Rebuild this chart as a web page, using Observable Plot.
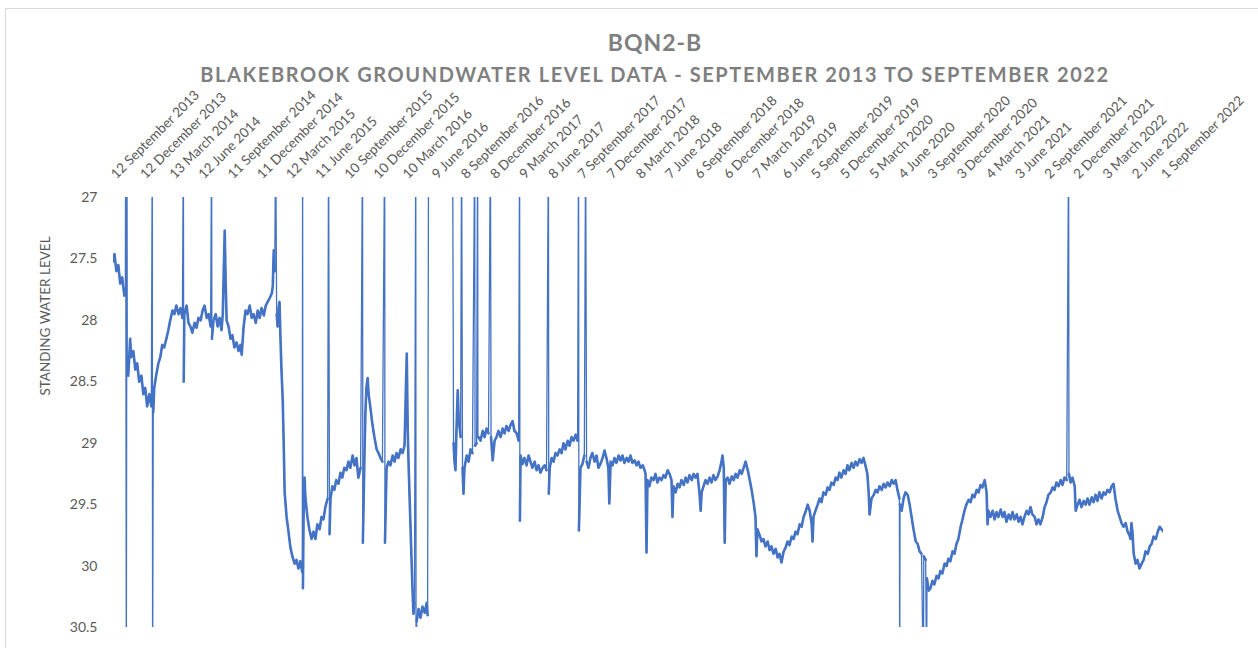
<!DOCTYPE html>
<html>
<head>
<meta charset="utf-8">
<script src="https://cdn.jsdelivr.net/npm/d3@7"></script>
<script src="https://cdn.jsdelivr.net/npm/@observablehq/plot@0.6"></script>
<style>
  body { margin: 0; background: #fff; font-family: Lato, "Open Sans", sans-serif; }
  #wrap { position: relative; width: 1258px; height: 648px; overflow: hidden; background: #fff; }
  #border { position: absolute; left: 5px; top: 8px; width: 1300px; height: 700px; border: 1px solid #d9d9d9; box-sizing: border-box; }
  .ttl { position: absolute; left: 0; width: 1310px; text-align: center; font-weight: 700; color: #7f7f7f; white-space: nowrap; }
  #title { top: 31px; font-size: 23px; line-height: 23px; letter-spacing: 1px; }
  #subtitle { top: 64px; font-size: 20px; line-height: 20px; letter-spacing: 1.6px; }
  #ylabel { position: absolute; left: 45px; top: 316px; transform: translate(-50%, -50%) rotate(-90deg); font-size: 13.5px; color: #595959; white-space: nowrap; }
  #chart { position: absolute; left: 0; top: 88px; }
</style>
</head>
<body>
<div id="wrap">
  <div id="border"></div>
  <div id="title" class="ttl">BQN2-B</div>
  <div id="subtitle" class="ttl">BLAKEBROOK GROUNDWATER LEVEL DATA - SEPTEMBER 2013 TO SEPTEMBER 2022</div>
  <div id="ylabel">STANDING WATER LEVEL</div>
  <div id="chart"></div>
</div>
<script>
// Quarterly tick dates and their labels (top axis)
const tickDates = ["2013-09-12","2013-12-12","2014-03-13","2014-06-12","2014-09-11","2014-12-11","2015-03-12","2015-06-11","2015-09-10","2015-12-10","2016-03-10","2016-06-09","2016-09-08","2016-12-08","2017-03-09","2017-06-08","2017-09-07","2017-12-07","2018-03-08","2018-06-07","2018-09-06","2018-12-06","2019-03-07","2019-06-06","2019-09-05","2019-12-05","2020-03-05","2020-06-04","2020-09-03","2020-12-03","2021-03-04","2021-06-03","2021-09-02","2021-12-02","2022-03-03","2022-06-02","2022-09-01"];
const tickLabels = ["12 September 2013","12 December 2013","13 March 2014","12 June 2014","11 September 2014","11 December 2014","12 March 2015","11 June 2015","10 September 2015","10 December 2015","10 March 2016","9 June 2016","8 September 2016","8 December 2016","9 March 2017","8 June 2017","7 September 2017","7 December 2017","8 March 2018","7 June 2018","6 September 2018","6 December 2018","7 March 2019","6 June 2019","5 September 2019","5 December 2019","5 March 2020","4 June 2020","3 September 2020","3 December 2020","4 March 2021","3 June 2021","2 September 2021","2 December 2021","3 March 2022","2 June 2022","1 September 2022"];
const yTicks = [27, 27.5, 28, 28.5, 29, 29.5, 30, 30.5];

// Standing water level readings [date, level] (values beyond 27 / 30.5 are off-scale logger spikes)
const readings = [
["2013-09-12",27.52],["2013-09-15",27.46],["2013-09-21",27.6],["2013-09-27",27.55],["2013-10-03",27.7],["2013-10-09",27.65],["2013-10-16",27.8],["2013-10-19",27.75],
["2013-10-20",26.5],["2013-10-22",31],["2013-10-24",26.5],["2013-10-25",28.3],["2013-10-28",28.45],["2013-10-31",28.3],["2013-11-03",28.15],["2013-11-06",28.3],
["2013-11-13",28.25],["2013-11-19",28.4],["2013-11-25",28.35],["2013-12-01",28.5],["2013-12-08",28.45],["2013-12-14",28.6],["2013-12-20",28.55],["2013-12-26",28.7],
["2014-01-02",28.6],["2014-01-08",28.7],["2014-01-11",26.5],["2014-01-12",31],["2014-01-14",28.75],["2014-01-17",28.55],["2014-01-23",28.45],["2014-01-30",28.35],
["2014-02-05",28.3],["2014-02-11",28.2],["2014-02-17",28.22],["2014-02-24",28.15],["2014-03-02",28.08],["2014-03-08",28.0],["2014-03-15",27.92],["2014-03-21",27.95],
["2014-03-27",27.88],["2014-04-03",27.95],["2014-04-09",27.9],["2014-04-15",27.98],["2014-04-18",26.5],["2014-04-19",28.5],["2014-04-21",27.95],["2014-04-28",27.88],
["2014-05-04",28.02],["2014-05-10",28.05],["2014-05-16",28.1],["2014-05-23",28.02],["2014-05-29",28.06],["2014-06-04",27.98],["2014-06-11",28.0],["2014-06-17",27.92],
["2014-06-23",27.88],["2014-06-30",27.98],["2014-07-06",27.95],["2014-07-12",28.05],["2014-07-15",26.5],["2014-07-16",28.15],["2014-07-21",28.0],["2014-07-28",27.95],
["2014-08-03",28.05],["2014-08-09",27.98],["2014-08-15",28.08],["2014-08-19",27.95],["2014-08-22",27.6],["2014-08-25",27.27],["2014-08-28",27.7],["2014-08-31",28.0],
["2014-09-06",28.05],["2014-09-12",28.15],["2014-09-18",28.12],["2014-09-24",28.22],["2014-10-01",28.18],["2014-10-07",28.25],["2014-10-13",28.2],["2014-10-17",28.28],
["2014-10-23",28.05],["2014-10-29",27.92],["2014-11-04",27.95],["2014-11-11",27.88],["2014-11-17",27.98],["2014-11-23",27.95],["2014-11-30",28.02],["2014-12-06",27.92],
["2014-12-12",27.98],["2014-12-18",27.9],["2014-12-25",27.96],["2014-12-31",27.88],["2015-01-06",27.85],["2015-01-12",27.82],["2015-01-19",27.78],["2015-01-22",27.72],
["2015-01-25",27.43],["2015-01-28",27.6],["2015-01-31",26.5],["2015-02-03",27.95],["2015-02-06",28.05],["2015-02-09",27.9],["2015-02-12",27.85],["2015-02-15",28.15],
["2015-02-18",28.4],["2015-02-22",28.65],["2015-02-25",29.0],["2015-02-28",29.4],["2015-03-06",29.6],["2015-03-12",29.72],["2015-03-18",29.85],["2015-03-24",29.92],
["2015-03-31",29.98],["2015-04-06",29.95],["2015-04-12",30.02],["2015-04-18",29.96],["2015-04-24",30.05],["2015-04-25",26.5],["2015-04-26",30.18],["2015-04-28",29.6],
["2015-05-01",29.28],["2015-05-04",29.45],["2015-05-10",29.6],["2015-05-16",29.7],["2015-05-23",29.78],["2015-05-29",29.72],["2015-06-04",29.78],["2015-06-10",29.66],
["2015-06-17",29.7],["2015-06-23",29.6],["2015-06-29",29.62],["2015-07-05",29.52],["2015-07-12",29.45],["2015-07-15",26.5],["2015-07-18",29.74],["2015-07-21",29.45],
["2015-07-27",29.35],["2015-08-02",29.38],["2015-08-08",29.3],["2015-08-15",29.33],["2015-08-21",29.24],["2015-08-27",29.28],["2015-09-02",29.2],["2015-09-09",29.22],
["2015-09-15",29.15],["2015-09-21",29.2],["2015-09-28",29.1],["2015-10-04",29.18],["2015-10-10",29.12],["2015-10-16",29.28],["2015-10-23",29.2],["2015-10-29",26.5],
["2015-10-30",29.81],["2015-11-04",29.1],["2015-11-07",28.75],["2015-11-10",28.55],["2015-11-14",28.47],["2015-11-17",28.6],["2015-11-23",28.72],["2015-11-29",28.85],
["2015-12-05",28.95],["2015-12-12",29.05],["2015-12-18",29.08],["2015-12-24",29.12],["2015-12-30",29.15],["2016-01-06",26.5],["2016-01-07",29.81],["2016-01-12",29.2],
["2016-01-18",29.15],["2016-01-24",29.18],["2016-01-31",29.1],["2016-02-06",29.15],["2016-02-12",29.08],["2016-02-18",29.12],["2016-02-25",29.05],["2016-03-02",29.08],
["2016-03-08",29.02],["2016-03-11",28.7],["2016-03-15",28.27],["2016-03-18",28.9],["2016-03-21",29.2],["2016-03-27",29.71],["2016-04-02",30.2],["2016-04-05",30.39],
["2016-04-08",30.3],["2016-04-12",26.5],["2016-04-13",31],["2016-04-15",30.45],["2016-04-21",30.35],["2016-04-27",30.42],["2016-05-03",30.33],["2016-05-10",30.38],
["2016-05-16",30.3],["2016-05-19",30.4],["2016-05-22",26.5],["2016-08-05",26.5],
["2016-08-08",29.0],["2016-08-11",29.15],["2016-08-14",29.22],["2016-08-17",28.9],["2016-08-21",28.57],["2016-08-24",28.8],["2016-08-30",28.95],["2016-09-02",26.5],
["2016-09-05",29.2],["2016-09-08",29.41],["2016-09-11",29.2],["2016-09-18",29.1],["2016-09-24",29.15],["2016-09-30",29.05],["2016-10-06",29.08],["2016-10-13",26.5],
["2016-10-14",29.02],["2016-10-19",29.0],["2016-10-22",26.5],["2016-10-23",28.95],["2016-10-25",28.95],["2016-10-31",28.98],["2016-11-07",28.9],["2016-11-13",28.95],
["2016-11-19",28.88],["2016-11-25",28.92],["2016-12-01",26.5],["2016-12-03",28.95],["2016-12-08",29.14],["2016-12-14",28.98],["2016-12-20",28.95],["2016-12-26",28.9],
["2017-01-02",28.95],["2017-01-08",28.88],["2017-01-14",28.92],["2017-01-20",28.86],["2017-01-27",28.9],["2017-02-02",28.85],["2017-02-08",28.82],["2017-02-14",28.9],
["2017-02-21",28.92],["2017-02-27",28.98],["2017-03-02",26.5],["2017-03-03",29.63],["2017-03-05",29.1],["2017-03-11",29.17],["2017-03-17",29.12],["2017-03-24",29.18],
["2017-03-30",29.1],["2017-04-05",29.15],["2017-04-11",29.2],["2017-04-18",29.15],["2017-04-24",29.22],["2017-04-30",29.18],["2017-05-06",29.24],["2017-05-13",29.2],
["2017-05-19",29.18],["2017-05-25",29.22],["2017-05-31",26.5],["2017-06-01",29.41],["2017-06-04",29.2],["2017-06-10",29.12],["2017-06-16",29.15],["2017-06-22",29.08],
["2017-06-28",29.1],["2017-07-05",29.05],["2017-07-11",29.08],["2017-07-17",29.0],["2017-07-23",29.05],["2017-07-30",28.98],["2017-08-05",29.02],["2017-08-11",28.95],
["2017-08-17",28.98],["2017-08-24",28.93],["2017-08-30",28.98],["2017-09-02",26.5],["2017-09-03",29.71],["2017-09-08",29.2],["2017-09-14",29.17],["2017-09-20",29.1],
["2017-09-24",26.5],["2017-09-27",29.15],["2017-10-03",29.2],["2017-10-09",29.12],["2017-10-15",29.08],["2017-10-22",29.15],["2017-10-28",29.1],["2017-11-03",29.2],
["2017-11-09",29.17],["2017-11-16",29.12],["2017-11-22",29.06],["2017-11-28",29.12],["2017-12-04",29.2],["2017-12-07",29.49],["2017-12-11",29.15],["2017-12-17",29.18],
["2017-12-23",29.12],["2017-12-29",29.16],["2018-01-05",29.1],["2018-01-11",29.14],["2018-01-17",29.1],["2018-01-23",29.16],["2018-01-30",29.12],["2018-02-05",29.15],
["2018-02-11",29.1],["2018-02-17",29.16],["2018-02-24",29.14],["2018-03-02",29.18],["2018-03-08",29.15],["2018-03-14",29.2],["2018-03-21",29.18],["2018-03-27",29.22],
["2018-03-30",29.25],["2018-04-02",29.89],["2018-04-05",29.3],["2018-04-11",29.35],["2018-04-17",29.28],["2018-04-24",29.3],["2018-04-30",29.25],["2018-05-06",29.32],
["2018-05-12",29.28],["2018-05-19",29.3],["2018-05-25",29.26],["2018-05-31",29.28],["2018-06-07",29.22],["2018-06-13",29.25],["2018-06-19",29.3],["2018-06-22",29.6],
["2018-06-25",29.35],["2018-07-02",29.4],["2018-07-08",29.33],["2018-07-14",29.36],["2018-07-20",29.3],["2018-07-27",29.34],["2018-08-02",29.28],["2018-08-08",29.32],
["2018-08-14",29.26],["2018-08-21",29.3],["2018-08-27",29.25],["2018-09-02",29.28],["2018-09-08",29.25],["2018-09-14",29.4],["2018-09-18",29.55],["2018-09-21",29.4],
["2018-09-27",29.35],["2018-10-03",29.3],["2018-10-09",29.33],["2018-10-16",29.28],["2018-10-22",29.32],["2018-10-28",29.26],["2018-11-03",29.3],["2018-11-10",29.27],
["2018-11-16",29.22],["2018-11-22",29.15],["2018-11-25",29.1],["2018-11-29",29.2],["2018-12-02",29.81],["2018-12-05",29.3],["2018-12-11",29.28],["2018-12-17",29.33],
["2018-12-24",29.27],["2018-12-30",29.3],["2019-01-05",29.25],["2019-01-11",29.28],["2019-01-18",29.22],["2019-01-24",29.25],["2019-01-30",29.2],["2019-02-05",29.15],
["2019-02-12",29.22],["2019-02-18",29.3],["2019-02-24",29.38],["2019-03-02",29.48],["2019-03-08",29.6],["2019-03-11",29.92],["2019-03-14",29.7],["2019-03-21",29.75],
["2019-03-27",29.8],["2019-04-02",29.78],["2019-04-08",29.84],["2019-04-15",29.8],["2019-04-21",29.87],["2019-04-27",29.84],["2019-05-03",29.9],["2019-05-10",29.86],
["2019-05-16",29.93],["2019-05-22",29.9],["2019-05-28",29.97],["2019-06-04",29.88],["2019-06-10",29.85],["2019-06-16",29.8],["2019-06-22",29.83],["2019-06-29",29.76],
["2019-07-05",29.78],["2019-07-11",29.72],["2019-07-17",29.74],["2019-07-24",29.66],["2019-07-30",29.68],["2019-08-05",29.6],["2019-08-11",29.56],["2019-08-18",29.5],
["2019-08-24",29.55],["2019-08-30",29.65],["2019-09-02",29.8],["2019-09-05",29.6],["2019-09-11",29.55],["2019-09-18",29.5],["2019-09-24",29.45],["2019-09-30",29.48],
["2019-10-06",29.4],["2019-10-13",29.42],["2019-10-19",29.36],["2019-10-25",29.38],["2019-10-31",29.32],["2019-11-07",29.34],["2019-11-13",29.28],["2019-11-19",29.3],
["2019-11-25",29.24],["2019-12-01",29.28],["2019-12-08",29.22],["2019-12-14",29.25],["2019-12-20",29.18],["2019-12-26",29.22],["2020-01-02",29.16],["2020-01-08",29.2],
["2020-01-14",29.15],["2020-01-20",29.18],["2020-01-27",29.13],["2020-02-02",29.16],["2020-02-08",29.12],["2020-02-14",29.18],["2020-02-20",29.25],["2020-02-24",29.4],
["2020-02-27",29.58],["2020-03-04",29.45],["2020-03-11",29.42],["2020-03-17",29.38],["2020-03-23",29.4],["2020-03-29",29.35],["2020-04-05",29.38],["2020-04-11",29.33],
["2020-04-17",29.36],["2020-04-23",29.32],["2020-04-30",29.35],["2020-05-06",29.3],["2020-05-12",29.33],["2020-05-18",29.3],["2020-05-24",29.38],["2020-05-30",29.45],
["2020-05-31",31],["2020-06-01",29.5],["2020-06-06",29.55],["2020-06-12",29.45],["2020-06-18",29.4],["2020-06-25",29.42],["2020-07-01",29.5],["2020-07-07",29.6],
["2020-07-13",29.7],["2020-07-20",29.8],["2020-07-26",29.82],["2020-08-01",29.88],["2020-08-07",29.9],["2020-08-13",31],["2020-08-14",29.92],["2020-08-20",29.95],
["2020-08-23",31],["2020-08-24",30.1],["2020-08-29",30.2],["2020-09-04",30.18],["2020-09-10",30.12],["2020-09-16",30.15],["2020-09-23",30.08],["2020-09-29",30.1],
["2020-10-05",30.04],["2020-10-11",30.06],["2020-10-18",29.98],["2020-10-24",30.0],["2020-10-30",29.94],["2020-11-05",29.96],["2020-11-12",29.88],["2020-11-18",29.9],
["2020-11-24",29.82],["2020-11-30",29.78],["2020-12-07",29.68],["2020-12-13",29.62],["2020-12-19",29.55],["2020-12-25",29.5],["2021-01-01",29.46],["2021-01-07",29.48],
["2021-01-13",29.42],["2021-01-19",29.44],["2021-01-26",29.38],["2021-02-01",29.4],["2021-02-07",29.34],["2021-02-13",29.36],["2021-02-20",29.3],["2021-02-26",29.4],
["2021-03-01",29.66],["2021-03-04",29.55],["2021-03-10",29.6],["2021-03-17",29.55],["2021-03-23",29.62],["2021-03-29",29.56],["2021-04-04",29.6],["2021-04-11",29.54],
["2021-04-17",29.6],["2021-04-23",29.56],["2021-04-29",29.64],["2021-05-06",29.58],["2021-05-12",29.62],["2021-05-18",29.56],["2021-05-24",29.62],["2021-05-31",29.58],
["2021-06-06",29.64],["2021-06-12",29.6],["2021-06-18",29.66],["2021-06-24",29.6],["2021-07-01",29.55],["2021-07-07",29.58],["2021-07-13",29.52],["2021-07-19",29.58],
["2021-07-26",29.6],["2021-08-01",29.66],["2021-08-07",29.62],["2021-08-13",29.66],["2021-08-20",29.6],["2021-08-26",29.52],["2021-09-01",29.48],["2021-09-07",29.42],
["2021-09-14",29.4],["2021-09-20",29.36],["2021-09-26",29.38],["2021-10-02",29.32],["2021-10-09",29.35],["2021-10-15",29.3],["2021-10-21",29.34],["2021-10-27",29.28],
["2021-11-03",29.3],["2021-11-09",26.5],["2021-11-10",29.25],["2021-11-15",29.32],["2021-11-21",29.28],["2021-11-28",29.35],["2021-12-01",29.55],["2021-12-07",29.5],
["2021-12-13",29.46],["2021-12-19",29.52],["2021-12-26",29.47],["2022-01-01",29.5],["2022-01-07",29.45],["2022-01-13",29.5],["2022-01-20",29.44],["2022-01-26",29.48],
["2022-02-01",29.42],["2022-02-07",29.47],["2022-02-13",29.4],["2022-02-20",29.45],["2022-02-26",29.4],["2022-03-04",29.42],["2022-03-10",29.38],["2022-03-17",29.4],
["2022-03-23",29.35],["2022-03-29",29.33],["2022-04-04",29.45],["2022-04-11",29.55],["2022-04-17",29.6],["2022-04-23",29.65],["2022-04-29",29.68],["2022-05-06",29.65],
["2022-05-12",29.72],["2022-05-18",29.75],["2022-05-21",29.78],["2022-05-24",29.65],["2022-05-27",29.72],["2022-05-31",29.9],["2022-06-06",29.98],["2022-06-12",29.95],
["2022-06-18",30.02],["2022-06-25",29.98],["2022-07-01",29.95],["2022-07-07",29.88],["2022-07-14",29.9],["2022-07-20",29.84],["2022-07-26",29.82],["2022-08-01",29.76],
["2022-08-08",29.78],["2022-08-14",29.72],["2022-08-20",29.68],["2022-08-26",29.7],["2022-09-01",29.72]
];

const parse = d3.utcParse("%Y-%m-%d");
const data = readings.map(([d, v]) => ({ date: parse(d), level: v }));
const ticks = tickDates.map(parse);
const labelByTime = new Map(ticks.map((t, i) => [+t, tickLabels[i]]));
const yMin = 27, yMax = 30.5;
// On-scale readings only: drawn as the thicker main trace; the thin trace carries the spikes
const onScale = (d) => (d.level >= yMin && d.level <= yMax ? d.level : NaN);

const chart = Plot.plot({
  width: 1258,
  height: 557,
  marginTop: 109,
  marginLeft: 113,
  marginRight: 95,
  marginBottom: 18,
  style: { fontFamily: "Lato, 'Open Sans', sans-serif", fontSize: "13.5px", color: "#595959", background: "transparent", overflow: "visible" },
  x: { type: "utc", domain: [parse("2013-09-12"), parse("2022-09-01")] },
  y: { domain: [yMin, yMax], reverse: true },
  marks: [
    Plot.axisX({ anchor: "top", ticks, tickFormat: (d) => labelByTime.get(+d), tickRotate: -45, textAnchor: "start", tickSize: 0, tickPadding: 21, label: null }),
    Plot.axisY({ ticks: yTicks, tickFormat: (d) => String(d), tickSize: 0, tickPadding: 16, label: null, fontSize: 14 }),
    Plot.lineY(data, { x: "date", y: "level", stroke: "#4472C4", strokeWidth: 1.3, clip: true }),
    Plot.lineY(data, { x: "date", y: onScale, stroke: "#4472C4", strokeWidth: 2.6, strokeLinejoin: "round", clip: true })
  ]
});
document.getElementById("chart").appendChild(chart);
</script>
</body>
</html>
